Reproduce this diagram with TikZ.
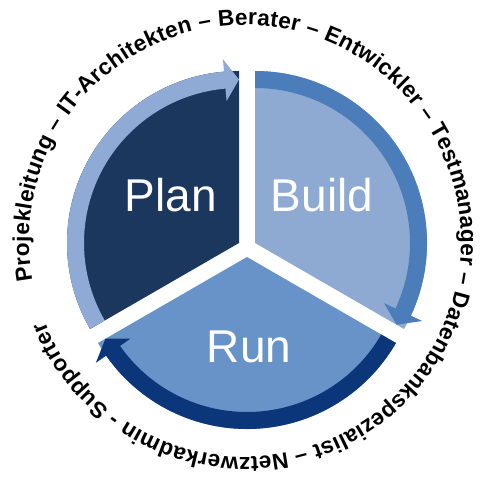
\documentclass[tikz,border=0pt]{standalone}
\usepackage{fontspec}
\setmainfont{Liberation Sans}
\usepackage{tikz}
\usetikzlibrary{decorations.text}

\definecolor{plandark}{RGB}{28,55,94}
\definecolor{planband}{RGB}{143,170,212}
\definecolor{buildfill}{RGB}{142,170,211}
\definecolor{buildband}{RGB}{74,125,186}
\definecolor{runfill}{RGB}{104,147,200}
\definecolor{runband}{RGB}{11,55,122}

\begin{document}
\begin{tikzpicture}[x=1pt, y=1pt, phase/.style={text=white, font=\fontsize{46}{46}\selectfont, anchor=base}]
  \useasboundingbox (0,0) rectangle (483,480);
  % sectors with their arrows
  \foreach \ax/\ay/\a/\fillc/\bandc in {239/237/90/plandark/planband, 255/237/-30/buildfill/buildband, 247/223/210/runfill/runband}
    {\begin{scope}[shift={(\ax,\ay)}]
       \fill[\fillc] (0,0) -- (\a:172) arc[start angle=\a, end angle=\a+120, radius=172] -- cycle;
       \fill[\bandc] (\a+120:172) arc[start angle=\a+120, end angle=\a+5, radius=172]
          -- (\a+5:184.5) -- (\a:163.5) -- (\a+5:142.5) -- (\a+5:155)
          arc[start angle=\a+5, end angle=\a+120, radius=155] -- cycle;
     \end{scope}}
  \node[phase] (plan) at (171,268) {Plan};
  \node[phase] (build) at (322,268) {Build};
  \node[phase] (run) at (249,117) {Run};
  % roles round the circle
  \path[decorate, decoration={text along path, text align=fit to path,
      text={|\bfseries\fontsize{22.6}{22.6}\selectfont|Projekleitung – IT-Architekten – Berater – Entwickler – Testmanager – Datenbankspezialist – Netzwerkadmin - Supporter}}]
    (245,239) ++(190.5:216) arc[start angle=190.5, end angle=-158, radius=216];
\end{tikzpicture}
\end{document}
